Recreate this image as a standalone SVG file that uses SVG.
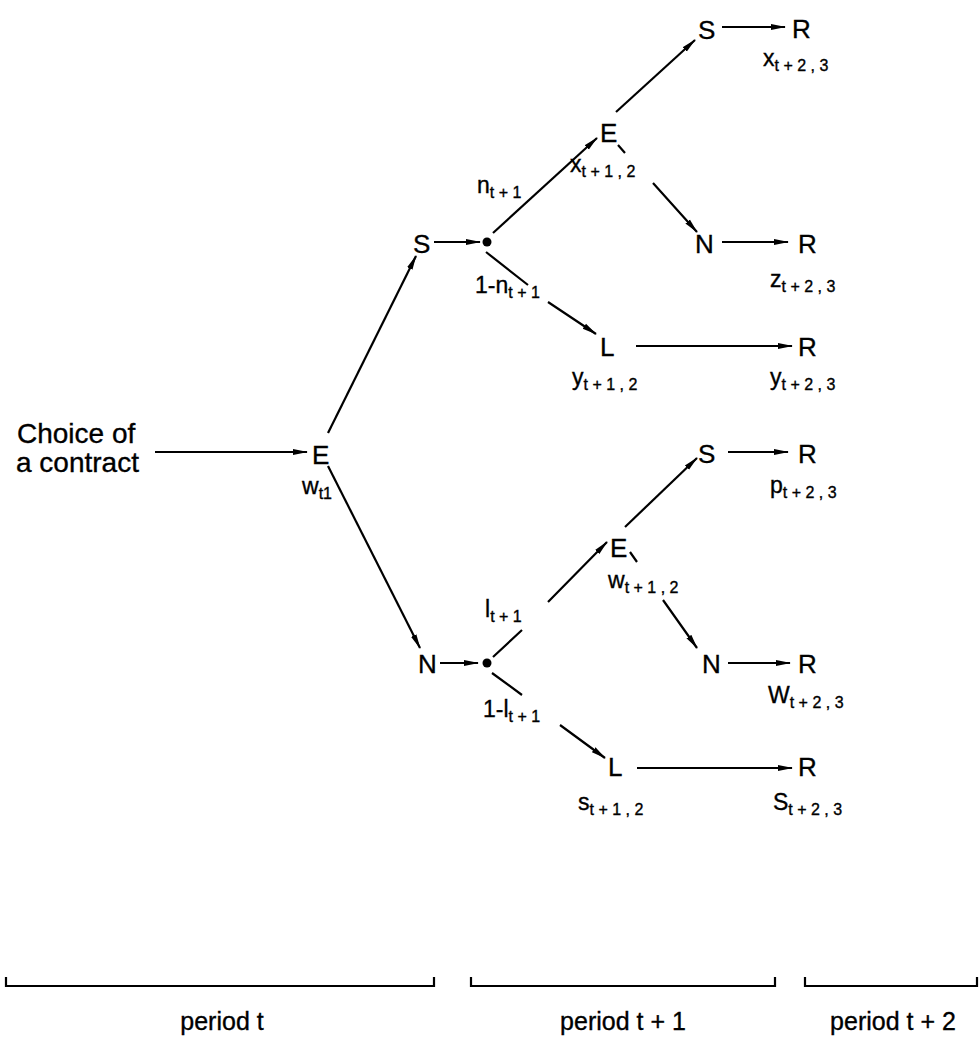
<svg xmlns="http://www.w3.org/2000/svg" width="979" height="1040" viewBox="0 0 979 1040">
<defs>
<marker id="ah" markerWidth="15" markerHeight="8" refX="14" refY="4" orient="auto" markerUnits="userSpaceOnUse">
<path d="M0,1 L15,4 L0,7 z" fill="#000"/>
</marker>
<style>
text{font-family:"Liberation Sans",Arial,sans-serif;fill:#000;stroke:#000;stroke-width:0.35}
.n{font-size:26px}
.t{font-size:28px}
.l{font-size:23px}
.s{font-size:16px}
.c{fill:none;stroke:#000;stroke-width:2.2;marker-end:url(#ah)}
.b{fill:none;stroke:#000;stroke-width:2.2}
.p{font-size:25px}
</style>
</defs>
<rect width="979" height="1040" fill="#fff"/>

<g id="connectors">
<path class="c" d="M155,452 L307,452"/>
<path class="c" d="M328,433 L416,256"/>
<path class="c" d="M434,242 L480,242"/>
<path class="c" d="M493,233 L597,138"/>
<path class="c" d="M616,112 L695,40"/>
<path class="c" d="M722,27 L785,27"/>
<path class="c" d="M618,145 L625,153 M653,183 L697,232"/>
<path class="c" d="M722,242 L788,242"/>
<path class="c" d="M486,252 L528,285 M548,302 L596,334"/>
<path class="c" d="M636,346 L792,346"/>
<path class="c" d="M328,466 L420,648"/>
<path class="c" d="M440,663 L478,663"/>
<path class="c" d="M493,657 L522,630 M548,602 L607,542"/>
<path class="c" d="M625,527 L697,458"/>
<path class="c" d="M728,452 L788,452"/>
<path class="c" d="M630,552 L637,562 M663,600 L697,648"/>
<path class="c" d="M728,663 L790,663"/>
<path class="c" d="M492,673 L522,695 M560,725 L605,758"/>
<path class="c" d="M637,768 L792,768"/>
</g>

<g id="start">
<text class="t" x="17" y="443">Choice of</text>
<text class="t" x="16" y="472">a contract</text>
</g>
<g id="E0"><text class="n" x="312" y="464">E</text><text class="l" x="302" y="494">w<tspan class="s" dy="5">t1</tspan></text></g>
<g id="S1"><text class="n" x="413" y="253">S</text></g>
<g id="d1"><circle cx="487" cy="242" r="4.5"/></g>
<g id="lab_n"><text class="l" x="477" y="193">n<tspan class="s" dy="5">t + 1</tspan></text></g>
<g id="lab_1n"><text class="l" x="475" y="293">1-n<tspan class="s" dy="5">t + 1</tspan></text></g>
<g id="E1"><text class="n" x="600" y="142">E</text><text class="l" x="570" y="172">x<tspan class="s" dy="5">t + 1 , 2</tspan></text></g>
<g id="S11"><text class="n" x="698" y="39">S</text></g>
<g id="R1"><text class="n" x="792" y="38">R</text><text class="l" x="763" y="66">x<tspan class="s" dy="5">t + 2 , 3</tspan></text></g>
<g id="N11"><text class="n" x="695" y="253">N</text></g>
<g id="R2"><text class="n" x="798" y="253">R</text><text class="l" x="770" y="287">z<tspan class="s" dy="5">t + 2 , 3</tspan></text></g>
<g id="L1"><text class="n" x="600" y="356">L</text><text class="l" x="572" y="385">y<tspan class="s" dy="5">t + 1 , 2</tspan></text></g>
<g id="R3"><text class="n" x="798" y="356">R</text><text class="l" x="770" y="385">y<tspan class="s" dy="5">t + 2 , 3</tspan></text></g>

<g id="N1"><text class="n" x="418" y="673">N</text></g>
<g id="d2"><circle cx="487" cy="663" r="4.5"/></g>
<g id="lab_l"><text class="l" x="485" y="617">l<tspan class="s" dy="5">t + 1</tspan></text></g>
<g id="lab_1l"><text class="l" x="483" y="717">1-l<tspan class="s" dy="5">t + 1</tspan></text></g>
<g id="E2"><text class="n" x="610" y="557">E</text><text class="l" x="608" y="588">w<tspan class="s" dy="5">t + 1 , 2</tspan></text></g>
<g id="S21"><text class="n" x="698" y="463">S</text></g>
<g id="R4"><text class="n" x="798" y="463">R</text><text class="l" x="770" y="493">p<tspan class="s" dy="5">t + 2 , 3</tspan></text></g>
<g id="N21"><text class="n" x="702" y="673">N</text></g>
<g id="R5"><text class="n" x="798" y="673">R</text><text class="l" x="768" y="703">W<tspan class="s" dy="5">t + 2 , 3</tspan></text></g>
<g id="L2"><text class="n" x="608" y="776">L</text><text class="l" x="578" y="810">s<tspan class="s" dy="5">t + 1 , 2</tspan></text></g>
<g id="R6"><text class="n" x="798" y="776">R</text><text class="l" x="773" y="810">S<tspan class="s" dy="5">t + 2 , 3</tspan></text></g>

<g id="periods">
<path class="b" d="M6,977 L6,986 L434,986 L434,977"/>
<path class="b" d="M471,977 L471,986 L775,986 L775,977"/>
<path class="b" d="M805,977 L805,986 L977,986 L977,977"/>
<text class="p" x="222" y="1030" text-anchor="middle">period  t</text>
<text class="p" x="623" y="1030" text-anchor="middle">period  t + 1</text>
<text class="p" x="893" y="1030" text-anchor="middle">period  t + 2</text>
</g>
</svg>
